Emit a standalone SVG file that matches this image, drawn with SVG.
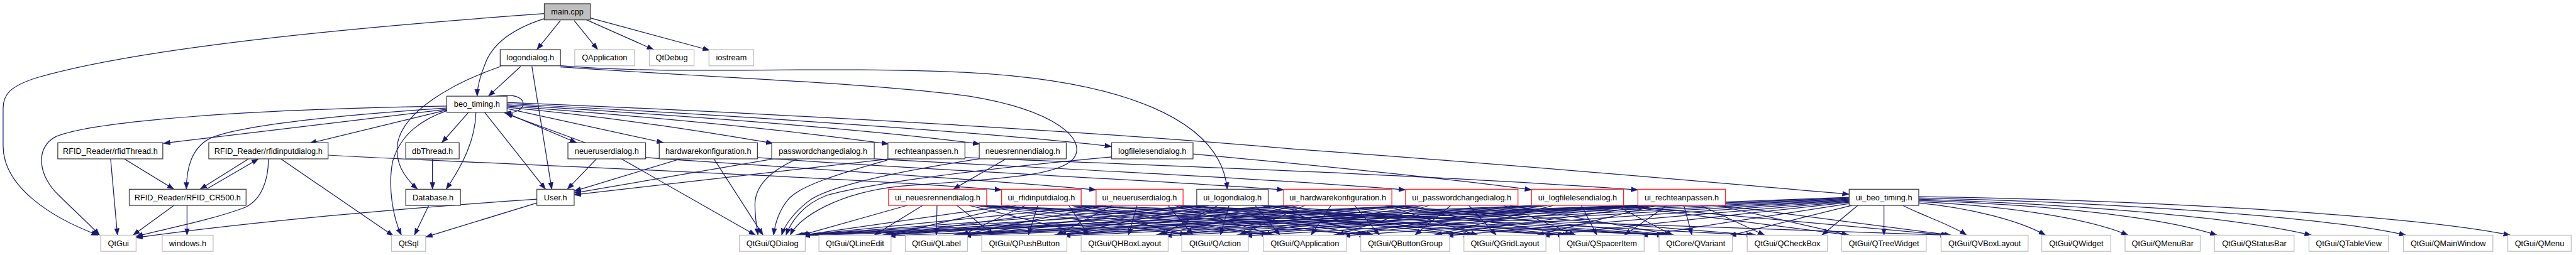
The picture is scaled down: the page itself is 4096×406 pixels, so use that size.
<svg xmlns="http://www.w3.org/2000/svg" width="4096" height="406" viewBox="0 0 4096 406">
<defs>
<marker id="ah" markerUnits="userSpaceOnUse" markerWidth="12" markerHeight="9" refX="11" refY="4" orient="auto" viewBox="0 0 12 8"><path d="M0,0 L11,4 L0,8 z" fill="#191970" stroke="#191970" stroke-width="0.5"/></marker>
<style>
.e path{fill:none;stroke:#191970;stroke-width:1.25;marker-end:url(#ah)}
.b rect{fill:#fff;stroke:#404040;stroke-width:1.3}
.m rect{fill:#bfbfbf;stroke:#404040;stroke-width:1.3}
.g rect{fill:#fff;stroke:#bfbfbf;stroke-width:1.3}
.r rect{fill:#fff;stroke:#ff2020;stroke-width:1.3}
text{font-family:"Liberation Sans",Arial,sans-serif;font-size:12.9px;text-anchor:middle;fill:#000}
</style>
</defs>
<rect x="0" y="0" width="4096" height="406" fill="#fff"/>
<g transform="scale(0.988)">
<g id="edges" class="e">
<path d="M876,22 C650,38 250,70 60,125 C12,140 5,155 5,175 L5,235 C5,300 80,350 158,379"/>
<path d="M876,30 C820,48 790,75 780,105 C772,125 768,140 768,155"/>
<path d="M902,33 L864,80"/>
<path d="M924,33 L962,80"/>
<path d="M944,32 L1052,80"/>
<path d="M950,29 L1142,81"/>
<path d="M838,107 L786,155"/>
<path d="M856,107 L888,305"/>
<path d="M806,107 C725,135 650,180 640,230 C635,262 650,285 672,305"/>
<path d="M902,106 C1100,122 1300,105 1560,117 C1800,130 1965,190 1975,305"/>
<path d="M902,108 C1150,125 1420,135 1560,155 C1700,178 1750,225 1728,255 C1705,285 1600,288 1450,300 C1350,310 1285,350 1272,379"/>
<path d="M798,155 C828,150 842,158 842,167 C842,176 832,182 812,182"/>
<path d="M812,181 L928,230"/>
<path d="M942,230 L814,183"/>
<path d="M754,181 L711,230"/>
<path d="M766,181 C765,225 745,265 718,305"/>
<path d="M780,181 L878,305"/>
<path d="M720,178 C680,192 645,215 632,260 C624,300 632,350 646,379"/>
<path d="M720,177 L498,231"/>
<path d="M720,174 C600,182 400,198 340,222 C310,236 300,268 300,305"/>
<path d="M720,176 L263,231"/>
<path d="M720,171 C400,176 150,195 90,220 C55,238 62,285 95,315 C120,340 145,362 160,379"/>
<path d="M816,175 L1068,230"/>
<path d="M816,173 C1000,190 1150,215 1244,231"/>
<path d="M816,171 C1100,192 1300,214 1430,232"/>
<path d="M816,169 C1200,192 1450,215 1577,232"/>
<path d="M816,167 C1300,192 1650,220 1789,236"/>
<path d="M816,165 C1300,185 1800,215 2080,240 C2500,270 2800,298 2976,313"/>
<path d="M178,256 L189,379"/>
<path d="M200,256 L280,305"/>
<path d="M400,256 L322,305"/>
<path d="M332,305 L416,256"/>
<path d="M432,256 C432,292 420,322 395,334 C340,355 260,370 219,381"/>
<path d="M452,256 L633,380"/>
<path d="M528,250 C800,265 1300,282 1612,306"/>
<path d="M280,331 L214,379"/>
<path d="M301,331 L301,379"/>
<path d="M696,256 L696,305"/>
<path d="M690,331 L667,379"/>
<path d="M864,327 L685,382"/>
<path d="M864,321 C650,335 400,358 219,383"/>
<path d="M960,256 L913,305"/>
<path d="M1000,256 L1216,379"/>
<path d="M1039,254 C1300,272 1600,290 1764,306"/>
<path d="M1095,256 L924,308"/>
<path d="M1149,256 L1228,379"/>
<path d="M1219,254 C1500,275 1900,292 2066,306"/>
<path d="M1245,256 L924,311"/>
<path d="M1283,256 C1240,275 1215,300 1215,330 C1215,352 1218,366 1220,379"/>
<path d="M1407,256 C1700,272 2000,285 2262,306"/>
<path d="M1432,256 L924,314"/>
<path d="M1428,258 C1350,280 1285,300 1268,322 C1252,342 1247,362 1245,379"/>
<path d="M1553,254 C1900,268 2300,282 2636,306"/>
<path d="M1619,256 L1534,305"/>
<path d="M1576,256 C1450,275 1330,300 1300,325 C1275,345 1262,365 1258,379"/>
<path d="M1789,253 C1600,270 1400,295 1330,315 C1290,330 1272,360 1265,379"/>
<path d="M1920,248 C2100,265 2350,290 2465,306"/>
<path d="M1460,331 L1290,379"/><path d="M1485,331 L1407,379"/><path d="M1508,331 L1507,379"/><path d="M1540,331 L1600,379"/><path d="M1560,331 L1755,379"/><path d="M1570,331 L1915,379"/><path d="M1575,331 L2046,379"/><path d="M1578,331 L2203,379"/><path d="M1580,331 L2368,379"/><path d="M1582,331 L2522,379"/><path d="M1584,331 L2682,379"/>
<path d="M1625,331 L1292,379"/><path d="M1635,331 L1428,379"/><path d="M1650,331 L1548,379"/><path d="M1670,331 L1655,379"/><path d="M1720,331 L1752,379"/><path d="M1725,331 L1910,379"/><path d="M1728,331 L2042,379"/><path d="M1730,331 L2199,379"/><path d="M1732,331 L2518,379"/><path d="M1733,331 L2678,379"/><path d="M1735,331 L3134,379"/>
<path d="M1772,331 L1290,379"/><path d="M1776,331 L1425,379"/><path d="M1780,331 L1545,379"/><path d="M1790,331 L1700,379"/><path d="M1830,331 L1816,379"/><path d="M1880,331 L1920,379"/><path d="M1890,331 L2050,379"/><path d="M1894,331 L2206,379"/><path d="M1896,331 L2366,379"/><path d="M1897,331 L2520,379"/><path d="M1898,331 L2680,379"/><path d="M1899,331 L2822,379"/>
<path d="M1934,331 L1288,379"/><path d="M1936,331 L1424,379"/><path d="M1940,331 L1542,379"/><path d="M1945,331 L1705,379"/><path d="M1960,331 L1866,379"/><path d="M1978,331 L1964,379"/><path d="M2020,331 L2060,379"/><path d="M2030,331 L2210,379"/><path d="M2033,331 L2372,379"/><path d="M2035,331 L2526,379"/><path d="M2036,331 L2686,379"/>
<path d="M2074,331 L1286,379"/><path d="M2076,331 L1422,379"/><path d="M2078,331 L1540,379"/><path d="M2082,331 L1703,379"/><path d="M2090,331 L1862,379"/><path d="M2100,331 L1995,379"/><path d="M2142,331 L2110,379"/><path d="M2180,331 L2220,379"/><path d="M2230,331 L2378,379"/><path d="M2232,331 L2530,379"/><path d="M2233,331 L2690,379"/><path d="M2234,331 L2826,379"/>
<path d="M2270,331 L1284,379"/><path d="M2272,331 L1420,379"/><path d="M2274,331 L1538,379"/><path d="M2276,331 L1700,379"/><path d="M2280,331 L1868,379"/><path d="M2290,331 L1994,379"/><path d="M2300,331 L2152,379"/><path d="M2335,331 L2277,379"/><path d="M2364,331 L2408,379"/><path d="M2420,331 L2536,379"/><path d="M2430,331 L2694,379"/>
<path d="M2473,331 L1282,379"/><path d="M2476,331 L1536,379"/><path d="M2478,331 L1698,379"/><path d="M2480,331 L1864,379"/><path d="M2485,331 L1992,379"/><path d="M2490,331 L2152,379"/><path d="M2500,331 L2310,379"/><path d="M2545,331 L2570,379"/><path d="M2600,331 L2692,379"/><path d="M2605,331 L2976,379"/><path d="M2607,331 L3136,379"/>
<path d="M2644,331 L1280,379"/><path d="M2646,331 L1534,379"/><path d="M2648,331 L1696,379"/><path d="M2650,331 L1860,379"/><path d="M2652,331 L1990,379"/><path d="M2655,331 L2146,379"/><path d="M2660,331 L2308,379"/><path d="M2665,331 L2474,379"/><path d="M2683,331 L2614,379"/><path d="M2710,331 L2723,379"/><path d="M2737,331 L2840,379"/><path d="M2765,331 L2975,379"/><path d="M2770,331 L3140,379"/>
<path d="M2976,318 L1293,380"/><path d="M2976,319 L1430,380"/><path d="M2976,320 L1552,380"/><path d="M2976,321 L1712,380"/><path d="M2976,322 L1875,380"/><path d="M2976,323 L2004,380"/><path d="M2976,324 L2162,380"/><path d="M2976,325 L2328,380"/><path d="M2976,326 L2483,380"/><path d="M2976,328 L2641,380"/><path d="M2980,331 L2783,380"/><path d="M2990,331 L2932,379"/><path d="M3032,331 L3032,379"/>
<path d="M3062,331 C3100,350 3140,362 3165,379"/>
<path d="M3088,327 C3170,335 3250,355 3292,379"/>
<path d="M3088,325 C3250,333 3370,355 3425,379"/>
<path d="M3088,323 C3300,330 3480,350 3568,379"/>
<path d="M3088,321 C3350,330 3600,350 3720,379"/>
<path d="M3088,319 C3400,326 3750,350 3872,379"/>
<path d="M3088,317 C3500,323 3900,350 4040,379"/>
</g>
<g id="n_main" class="m"><rect x="876" y="6" width="74" height="26"/><text x="913" y="23.5">main.cpp</text></g>
<g id="n_logondialog" class="b"><rect x="805" y="80" width="97" height="26"/><text x="853.5" y="97.5">logondialog.h</text></g>
<g id="n_qapp" class="g"><rect x="925" y="80" width="96" height="26"/><text x="973" y="97.5">QApplication</text></g>
<g id="n_qdebug" class="g"><rect x="1045" y="80" width="72" height="26"/><text x="1081" y="97.5">QtDebug</text></g>
<g id="n_iostream" class="g"><rect x="1141" y="80" width="72" height="26"/><text x="1177" y="97.5">iostream</text></g>
<g id="n_beo" class="b"><rect x="719" y="155" width="97" height="26"/><text x="767.5" y="172.5">beo_timing.h</text></g>
<g id="n_rfidthread" class="b"><rect x="93" y="230" width="169" height="26"/><text x="177.5" y="247.5">RFID_Reader/rfidThread.h</text></g>
<g id="n_rfidinput" class="b"><rect x="336" y="230" width="192" height="26"/><text x="432" y="247.5">RFID_Reader/rfidinputdialog.h</text></g>
<g id="n_dbthread" class="b"><rect x="653" y="230" width="86" height="26"/><text x="696" y="247.5">dbThread.h</text></g>
<g id="n_neueruser" class="b"><rect x="914" y="230" width="125" height="26"/><text x="976.5" y="247.5">neueruserdialog.h</text></g>
<g id="n_hardware" class="b"><rect x="1061" y="230" width="158" height="26"/><text x="1140" y="247.5">hardwarekonfiguration.h</text></g>
<g id="n_password" class="b"><rect x="1242" y="230" width="165" height="26"/><text x="1324.5" y="247.5">passwordchangedialog.h</text></g>
<g id="n_rechte" class="b"><rect x="1429" y="230" width="124" height="26"/><text x="1491" y="247.5">rechteanpassen.h</text></g>
<g id="n_neuesrennen" class="b"><rect x="1576" y="230" width="140" height="26"/><text x="1646" y="247.5">neuesrennendialog.h</text></g>
<g id="n_logfile" class="b"><rect x="1789" y="230" width="131" height="26"/><text x="1854.5" y="247.5">logfilelesendialog.h</text></g>
<g id="n_cr500" class="b"><rect x="208" y="305" width="188" height="26"/><text x="302" y="322.5">RFID_Reader/RFID_CR500.h</text></g>
<g id="n_database" class="b"><rect x="653" y="305" width="88" height="26"/><text x="697" y="322.5">Database.h</text></g>
<g id="n_user" class="b"><rect x="864" y="305" width="60" height="26"/><text x="894" y="322.5">User.h</text></g>
<g id="n_ui_neuesrennen" class="r"><rect x="1430" y="305" width="158" height="26"/><text x="1509" y="322.5">ui_neuesrennendialog.h</text></g>
<g id="n_ui_rfidinput" class="r"><rect x="1612" y="305" width="128" height="26"/><text x="1676" y="322.5">ui_rfidinputdialog.h</text></g>
<g id="n_ui_neueruser" class="r"><rect x="1764" y="305" width="140" height="26"/><text x="1834" y="322.5">ui_neueruserdialog.h</text></g>
<g id="n_ui_logon" class="b"><rect x="1926" y="305" width="115" height="26"/><text x="1983.5" y="322.5">ui_logondialog.h</text></g>
<g id="n_ui_hardware" class="r"><rect x="2066" y="305" width="174" height="26"/><text x="2153" y="322.5">ui_hardwarekonfiguration.h</text></g>
<g id="n_ui_password" class="r"><rect x="2262" y="305" width="181" height="26"/><text x="2352.5" y="322.5">ui_passwordchangedialog.h</text></g>
<g id="n_ui_logfile" class="r"><rect x="2465" y="305" width="148" height="26"/><text x="2539" y="322.5">ui_logfilelesendialog.h</text></g>
<g id="n_ui_rechte" class="r"><rect x="2636" y="305" width="141" height="26"/><text x="2706.5" y="322.5">ui_rechteanpassen.h</text></g>
<g id="n_ui_beo" class="b"><rect x="2976" y="305" width="112" height="26"/><text x="3032" y="322.5">ui_beo_timing.h</text></g>
<g id="n_qtgui" class="g"><rect x="162" y="379" width="57" height="26"/><text x="190.5" y="396.5">QtGui</text></g>
<g id="n_windows" class="g"><rect x="261" y="379" width="82" height="26"/><text x="302" y="396.5">windows.h</text></g>
<g id="n_qtsql" class="g"><rect x="630" y="379" width="55" height="26"/><text x="657.5" y="396.5">QtSql</text></g>
<g id="n_qdialog" class="g"><rect x="1190" y="379" width="106" height="26"/><text x="1243" y="396.5">QtGui/QDialog</text></g>
<g id="n_qlineedit" class="g"><rect x="1318" y="379" width="116" height="26"/><text x="1376" y="396.5">QtGui/QLineEdit</text></g>
<g id="n_qlabel" class="g"><rect x="1457" y="379" width="100" height="26"/><text x="1507" y="396.5">QtGui/QLabel</text></g>
<g id="n_qpushbutton" class="g"><rect x="1580" y="379" width="137" height="26"/><text x="1648.5" y="396.5">QtGui/QPushButton</text></g>
<g id="n_qhbox" class="g"><rect x="1740" y="379" width="140" height="26"/><text x="1810" y="396.5">QtGui/QHBoxLayout</text></g>
<g id="n_qaction" class="g"><rect x="1902" y="379" width="107" height="26"/><text x="1955.5" y="396.5">QtGui/QAction</text></g>
<g id="n_qguiapp" class="g"><rect x="2033" y="379" width="134" height="26"/><text x="2100" y="396.5">QtGui/QApplication</text></g>
<g id="n_qbuttongroup" class="g"><rect x="2190" y="379" width="143" height="26"/><text x="2261.5" y="396.5">QtGui/QButtonGroup</text></g>
<g id="n_qgrid" class="g"><rect x="2356" y="379" width="132" height="26"/><text x="2422" y="396.5">QtGui/QGridLayout</text></g>
<g id="n_qspacer" class="g"><rect x="2510" y="379" width="136" height="26"/><text x="2578" y="396.5">QtGui/QSpacerItem</text></g>
<g id="n_qvariant" class="g"><rect x="2670" y="379" width="118" height="26"/><text x="2729" y="396.5">QtCore/QVariant</text></g>
<g id="n_qcheckbox" class="g"><rect x="2812" y="379" width="129" height="26"/><text x="2876.5" y="396.5">QtGui/QCheckBox</text></g>
<g id="n_qtree" class="g"><rect x="2964" y="379" width="136" height="26"/><text x="3032" y="396.5">QtGui/QTreeWidget</text></g>
<g id="n_qvbox" class="g"><rect x="3124" y="379" width="140" height="26"/><text x="3194" y="396.5">QtGui/QVBoxLayout</text></g>
<g id="n_qwidget" class="g"><rect x="3286" y="379" width="111" height="26"/><text x="3341.5" y="396.5">QtGui/QWidget</text></g>
<g id="n_qmenubar" class="g"><rect x="3420" y="379" width="121" height="26"/><text x="3480.5" y="396.5">QtGui/QMenuBar</text></g>
<g id="n_qstatusbar" class="g"><rect x="3564" y="379" width="128" height="26"/><text x="3628" y="396.5">QtGui/QStatusBar</text></g>
<g id="n_qtableview" class="g"><rect x="3716" y="379" width="128" height="26"/><text x="3780" y="396.5">QtGui/QTableView</text></g>
<g id="n_qmainwindow" class="g"><rect x="3868" y="379" width="144" height="26"/><text x="3940" y="396.5">QtGui/QMainWindow</text></g>
<g id="n_qmenu" class="g"><rect x="4036" y="379" width="102" height="26"/><text x="4087" y="396.5">QtGui/QMenu</text></g>
</g>
</svg>
